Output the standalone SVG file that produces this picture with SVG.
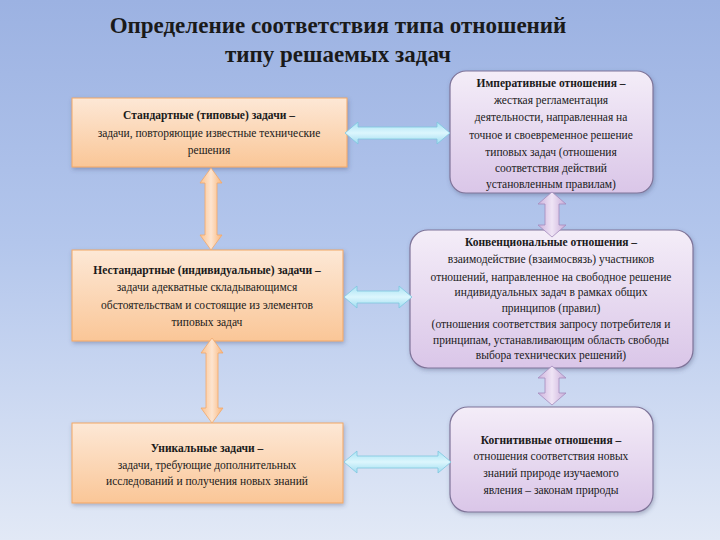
<svg xmlns="http://www.w3.org/2000/svg" width="720" height="540" viewBox="0 0 720 540">
<defs>
<linearGradient id="bg" x1="0" y1="0" x2="0" y2="1">
<stop offset="0" stop-color="#9cb2e2"/>
<stop offset="0.45" stop-color="#b3c6ec"/>
<stop offset="1" stop-color="#e2e9f6"/>
</linearGradient>
<linearGradient id="og" x1="0" y1="0" x2="0" y2="1">
<stop offset="0" stop-color="#fde8d6"/>
<stop offset="1" stop-color="#fac697"/>
</linearGradient>
<linearGradient id="pg" x1="0" y1="0" x2="0" y2="1">
<stop offset="0" stop-color="#f4edf8"/>
<stop offset="1" stop-color="#dac6e8"/>
</linearGradient>
<linearGradient id="oa" x1="0" y1="0" x2="1" y2="0">
<stop offset="0" stop-color="#fbc28f"/>
<stop offset="0.5" stop-color="#fde4cf"/>
<stop offset="1" stop-color="#f9b57a"/>
</linearGradient>
<linearGradient id="ca" x1="0" y1="0" x2="0" y2="1">
<stop offset="0" stop-color="#a9e3f4"/>
<stop offset="0.5" stop-color="#dcf6fd"/>
<stop offset="1" stop-color="#9edcf0"/>
</linearGradient>
<linearGradient id="pa" x1="0" y1="0" x2="1" y2="0">
<stop offset="0" stop-color="#cdb2dd"/>
<stop offset="0.5" stop-color="#efe4f5"/>
<stop offset="1" stop-color="#c8acd9"/>
</linearGradient>
<filter id="sh" x="-10%" y="-10%" width="120%" height="130%">
<feDropShadow dx="1" dy="2" stdDeviation="2" flood-color="#404a70" flood-opacity="0.35"/>
</filter>
</defs>
<style>
.t{font-family:'Liberation Serif','DejaVu Serif','Times New Roman',serif;fill:#1a1a1a;text-anchor:middle}
.title{font-size:23px;font-weight:bold}
.b{font-size:11.5px;font-weight:bold}
.n{font-size:11.5px}
.ob{fill:url(#og);stroke:#f2a765;stroke-width:1}
.pb{fill:url(#pg);stroke:#7f7499;stroke-width:1.2}
.oa{fill:url(#oa);stroke:#f3a86a;stroke-width:0.8}
.ca{fill:url(#ca);stroke:#7ec7de;stroke-width:0.8}
.pa{fill:url(#pa);stroke:#a58cbd;stroke-width:0.8}
</style>
<rect x="0" y="0" width="720" height="540" fill="url(#bg)"/>
<g id="title" font-family="Liberation Serif, serif">
<text class="t title" x="338" y="33">Определение соответствия типа отношений</text>
<text class="t title" x="338" y="62">типу решаемых задач</text>
</g>
<g id="standard" font-family="Liberation Serif, serif">
<rect class="ob" x="72" y="98" width="275" height="69" filter="url(#sh)"/>
<text class="t b" x="209" y="119">Стандартные  (типовые) задачи –</text>
<text class="t n" x="209" y="137">задачи, повторяющие известные технические</text>
<text class="t n" x="209" y="154">решения</text>
</g>
<g id="nonstandard" font-family="Liberation Serif, serif">
<rect class="ob" x="72" y="250" width="271" height="91" filter="url(#sh)"/>
<text class="t b" x="207" y="274">Нестандартные (индивидуальные) задачи –</text>
<text class="t n" x="207" y="291">задачи адекватные складывающимся</text>
<text class="t n" x="207" y="309">обстоятельствам и состоящие из элементов</text>
<text class="t n" x="207" y="326">типовых задач</text>
</g>
<g id="unique" font-family="Liberation Serif, serif">
<rect class="ob" x="72" y="423" width="271" height="80" filter="url(#sh)"/>
<text class="t b" x="207" y="452">Уникальные задачи –</text>
<text class="t n" x="207" y="469">задачи, требующие дополнительных</text>
<text class="t n" x="207" y="485">исследований и получения новых знаний</text>
</g>
<g id="imperative" font-family="Liberation Serif, serif">
<rect class="pb" x="450" y="71" width="203" height="122" rx="16" filter="url(#sh)"/>
<text class="t b" x="551" y="87">Императивные отношения –</text>
<text class="t n" x="551" y="104">жесткая регламентация</text>
<text class="t n" x="551" y="121">деятельности, направленная на</text>
<text class="t n" x="551" y="139">точное и своевременное решение</text>
<text class="t n" x="551" y="156">типовых задач (отношения</text>
<text class="t n" x="551" y="172">соответствия действий</text>
<text class="t n" x="551" y="188">установленным правилам)</text>
</g>
<g id="conventional" font-family="Liberation Serif, serif">
<rect class="pb" x="410" y="230" width="283" height="138" rx="18" filter="url(#sh)"/>
<text class="t b" x="551" y="246">Конвенциональные отношения –</text>
<text class="t n" x="551" y="263">взаимодействие (взаимосвязь) участников</text>
<text class="t n" x="551" y="281">отношений, направленное на свободное решение</text>
<text class="t n" x="551" y="296">индивидуальных задач в рамках общих</text>
<text class="t n" x="551" y="312">принципов (правил)</text>
<text class="t n" x="551" y="328">(отношения соответствия запросу потребителя и</text>
<text class="t n" x="551" y="344">принципам, устанавливающим область свободы</text>
<text class="t n" x="551" y="359">выбора технических решений)</text>
</g>
<g id="cognitive" font-family="Liberation Serif, serif">
<rect class="pb" x="450" y="407" width="203" height="105" rx="18" filter="url(#sh)"/>
<text class="t b" x="551" y="444">Когнитивные отношения –</text>
<text class="t n" x="551" y="460">отношения соответствия новых</text>
<text class="t n" x="551" y="477">знаний природе изучаемого</text>
<text class="t n" x="551" y="494">явления – законам природы</text>
</g>
<g id="connectors">
<polygon class="oa" points="211,168 222,183 217,183 217,235 222,235 211,250 200,235 205,235 205,183 200,183"/>
<polygon class="oa" points="212,338 223,353 218,353 218,408 223,408 212,423 201,408 206,408 206,353 201,353"/>
<polygon class="ca" points="345,133 358,122 358,127 437,127 437,122 450,133 437,144 437,139 358,139 358,144"/>
<polygon class="ca" points="344,297 357,286 357,291 399,291 399,286 412,297 399,308 399,303 357,303 357,308"/>
<polygon class="ca" points="344,462 357,451 357,456 438,456 438,451 451,462 438,473 438,468 357,468 357,473"/>
<polygon class="pa" points="552,192 566,204 559,204 559,225 566,225 552,237 538,225 545,225 545,204 538,204"/>
<polygon class="pa" points="552,366 566,378 559,378 559,393 566,393 552,405 538,393 545,393 545,378 538,378"/>
</g>
</svg>
